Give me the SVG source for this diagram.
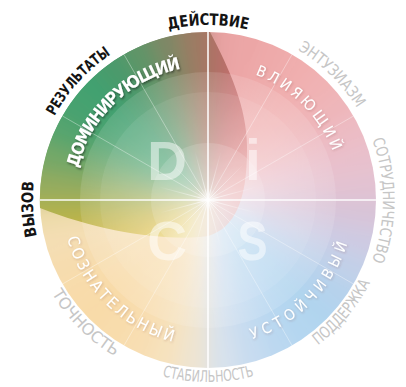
<svg xmlns="http://www.w3.org/2000/svg" xmlns:xlink="http://www.w3.org/1999/xlink" width="406" height="387" viewBox="0 0 406 387">
<style>
.lb{font-family:"DejaVu Sans Condensed","DejaVu Sans","Liberation Sans",sans-serif;font-weight:bold;fill:#141414;font-size:16px}
.lg{font-family:"DejaVu Sans Condensed","DejaVu Sans","Liberation Sans",sans-serif;fill:#c6c6c6;font-size:16px}
.lw{font-family:"DejaVu Sans Condensed","DejaVu Sans","Liberation Sans",sans-serif;fill:#ffffff;font-size:15px}
.big{font-family:"Liberation Sans",Arial,sans-serif;font-weight:bold;font-size:55px;fill:#ffffff;fill-opacity:0.5;text-anchor:middle}
.sp{stroke:#ffffff;stroke-opacity:0.45;stroke-width:0.8}
.cr{stroke:#ffffff;stroke-opacity:0.95;stroke-width:1.6}
.ray{stroke:url(#rg);stroke-width:0.9}
</style>
<defs>
<clipPath id="cc"><circle cx="208" cy="200" r="168"/></clipPath>
<clipPath id="tc"><path d="M210 32 C230 70 248 110 247 150 C247 200 235 228 208 236 C170 242 100 232 40 208 A168 168 0 0 1 210 32Z"/></clipPath>
<filter id="bl" x="-10%" y="-10%" width="120%" height="120%"><feGaussianBlur stdDeviation="9"/></filter>
<filter id="sh" x="-10%" y="-10%" width="120%" height="120%"><feDropShadow dx="1" dy="1.5" stdDeviation="1" flood-color="#000" flood-opacity="0.5"/></filter>
<filter id="sh2" x="-10%" y="-10%" width="120%" height="120%"><feDropShadow dx="0.8" dy="1" stdDeviation="0.8" flood-color="#703030" flood-opacity="0.25"/></filter>
<radialGradient id="wg" cx="208" cy="200" r="128" gradientUnits="userSpaceOnUse">
<stop offset="0" stop-color="#fff" stop-opacity="0.6"/>
<stop offset="0.45" stop-color="#fff" stop-opacity="0.33"/>
<stop offset="1" stop-color="#fff" stop-opacity="0.12"/>
</radialGradient>
<radialGradient id="rg" cx="208" cy="200" r="50" gradientUnits="userSpaceOnUse">
<stop offset="0" stop-color="#fff" stop-opacity="0.8"/>
<stop offset="1" stop-color="#fff" stop-opacity="0"/>
</radialGradient>
<radialGradient id="glow" cx="208" cy="200" r="12" gradientUnits="userSpaceOnUse">
<stop offset="0" stop-color="#fff" stop-opacity="0.6"/>
<stop offset="1" stop-color="#fff" stop-opacity="0"/>
</radialGradient>
<path id="cwA" d="M208 375 A175 175 0 1 1 208 25 A175 175 0 1 1 208 375"/>
<path id="cwI" d="M208 334 A134 134 0 1 1 208 66 A134 134 0 1 1 208 334"/>
<path id="ccwG" d="M26 200 A182 182 0 1 0 390 200 A182 182 0 1 0 26 200"/>
<path id="ccwI" d="M62 200 A146 146 0 1 0 354 200 A146 146 0 1 0 62 200"/>
<path id="w0" d="M208 200L448 200L444.4 158.3Z"/>
<path id="w10" d="M208 200L444.4 158.3L433.5 117.9Z"/>
<path id="w20" d="M208 200L433.5 117.9L415.8 80Z"/>
<path id="w30" d="M208 200L415.8 80L391.8 45.7Z"/>
<path id="w40" d="M208 200L391.8 45.7L362.3 16.2Z"/>
<path id="w50" d="M208 200L362.3 16.2L328 -7.8Z"/>
<path id="w60" d="M208 200L328 -7.8L290.1 -25.5Z"/>
<path id="w70" d="M208 200L290.1 -25.5L249.7 -36.4Z"/>
<path id="w80" d="M208 200L249.7 -36.4L208 -40Z"/>
<path id="w90" d="M208 200L208 -40L166.3 -36.4Z"/>
<path id="w100" d="M208 200L166.3 -36.4L125.9 -25.5Z"/>
<path id="w110" d="M208 200L125.9 -25.5L88 -7.8Z"/>
<path id="w120" d="M208 200L88 -7.8L53.7 16.2Z"/>
<path id="w130" d="M208 200L53.7 16.2L24.2 45.7Z"/>
<path id="w140" d="M208 200L24.2 45.7L0.2 80Z"/>
<path id="w150" d="M208 200L0.2 80L-17.5 117.9Z"/>
<path id="w160" d="M208 200L-17.5 117.9L-28.4 158.3Z"/>
<path id="w170" d="M208 200L-28.4 158.3L-32 200Z"/>
<path id="w180" d="M208 200L-32 200L-28.4 241.7Z"/>
<path id="w190" d="M208 200L-28.4 241.7L-17.5 282.1Z"/>
<path id="w200" d="M208 200L-17.5 282.1L0.2 320Z"/>
<path id="w210" d="M208 200L0.2 320L24.2 354.3Z"/>
<path id="w220" d="M208 200L24.2 354.3L53.7 383.8Z"/>
<path id="w230" d="M208 200L53.7 383.8L88 407.8Z"/>
<path id="w240" d="M208 200L88 407.8L125.9 425.5Z"/>
<path id="w250" d="M208 200L125.9 425.5L166.3 436.4Z"/>
<path id="w260" d="M208 200L166.3 436.4L208 440Z"/>
<path id="w270" d="M208 200L208 440L249.7 436.4Z"/>
<path id="w280" d="M208 200L249.7 436.4L290.1 425.5Z"/>
<path id="w290" d="M208 200L290.1 425.5L328 407.8Z"/>
<path id="w300" d="M208 200L328 407.8L362.3 383.8Z"/>
<path id="w310" d="M208 200L362.3 383.8L391.8 354.3Z"/>
<path id="w320" d="M208 200L391.8 354.3L415.8 320Z"/>
<path id="w330" d="M208 200L415.8 320L433.5 282.1Z"/>
<path id="w340" d="M208 200L433.5 282.1L444.4 241.7Z"/>
<path id="w350" d="M208 200L444.4 241.7L448 200Z"/>
</defs>
<rect width="406" height="387" fill="#ffffff"/>
<g id="disc-base" clip-path="url(#cc)">
<g filter="url(#bl)">
<use href="#w0" fill="#e2c2d2"/><use href="#w10" fill="#e8c0cc"/><use href="#w20" fill="#ecbcc4"/><use href="#w30" fill="#eeb6ba"/>
<use href="#w40" fill="#f0b2b4"/><use href="#w50" fill="#f0aeae"/><use href="#w60" fill="#eeaaaa"/><use href="#w70" fill="#eca6a6"/>
<use href="#w80" fill="#e8a2a2"/><use href="#w90" fill="#b09080"/><use href="#w100" fill="#7e8866"/><use href="#w110" fill="#609468"/>
<use href="#w120" fill="#4c9a6c"/><use href="#w130" fill="#42a070"/><use href="#w140" fill="#46a270"/><use href="#w150" fill="#56a46e"/>
<use href="#w160" fill="#74a868"/><use href="#w170" fill="#94ac5e"/><use href="#w180" fill="#ecdaa8"/><use href="#w190" fill="#f4deb4"/>
<use href="#w200" fill="#f6dcae"/><use href="#w210" fill="#f8dbaa"/><use href="#w220" fill="#f8daa8"/><use href="#w230" fill="#f8dcac"/>
<use href="#w240" fill="#f8deb2"/><use href="#w250" fill="#f6e2be"/><use href="#w260" fill="#eee4d2"/><use href="#w270" fill="#d8e2ec"/>
<use href="#w280" fill="#c8dcf0"/><use href="#w290" fill="#bcd8f0"/><use href="#w300" fill="#b4d6f0"/><use href="#w310" fill="#b0d4ee"/>
<use href="#w320" fill="#b6d2ec"/><use href="#w330" fill="#c2d0e8"/><use href="#w340" fill="#cecae2"/><use href="#w350" fill="#d8c4d8"/>
</g>
</g>
<g id="disc-drop" clip-path="url(#tc)">
<g filter="url(#bl)">
<use href="#w0" fill="#e4a0a4"/><use href="#w10" fill="#e69c9c"/><use href="#w20" fill="#e69898"/><use href="#w30" fill="#e49090"/>
<use href="#w40" fill="#e08888"/><use href="#w50" fill="#dc8080"/><use href="#w60" fill="#d47878"/><use href="#w70" fill="#c87070"/>
<use href="#w80" fill="#b47068"/><use href="#w90" fill="#9c7c64"/><use href="#w100" fill="#7e8866"/><use href="#w110" fill="#609468"/>
<use href="#w120" fill="#4c9a6c"/><use href="#w130" fill="#42a070"/><use href="#w140" fill="#46a270"/><use href="#w150" fill="#56a46e"/>
<use href="#w160" fill="#74a868"/><use href="#w170" fill="#94ac5e"/><use href="#w180" fill="#b2b24e"/><use href="#w190" fill="#c8b646"/>
<use href="#w200" fill="#d8bc48"/><use href="#w210" fill="#e2c450"/><use href="#w220" fill="#e8cc60"/><use href="#w230" fill="#ecd474"/>
<use href="#w240" fill="#eedc90"/><use href="#w250" fill="#eadcb0"/><use href="#w260" fill="#e6d4b8"/><use href="#w270" fill="#e0c8c0"/>
<use href="#w280" fill="#dcc0c0"/><use href="#w290" fill="#dab8bc"/><use href="#w300" fill="#d8b4b8"/><use href="#w310" fill="#d8b0b4"/>
<use href="#w320" fill="#dcaaae"/><use href="#w330" fill="#dea8ac"/><use href="#w340" fill="#e0a6aa"/><use href="#w350" fill="#e2a2a6"/>
</g>
</g>
<g id="disc-bands">
<circle cx="208" cy="200" r="128" fill="url(#wg)"/>
<circle cx="208" cy="200" r="108" fill="#ffffff" fill-opacity="0.08"/>
<circle cx="208" cy="200" r="57" fill="#ffffff" fill-opacity="0.14"/>
</g>
<g id="connectors">
<line class="sp" x1="62.5" y1="116" x2="353.5" y2="284"/>
<line class="sp" x1="124" y1="54.5" x2="292" y2="345.5"/>
<line class="sp" x1="292" y1="54.5" x2="124" y2="345.5"/>
<line class="sp" x1="353.5" y1="116" x2="62.5" y2="284"/>
<line class="ray" x1="266" y1="184.5" x2="150" y2="215.5"/>
<line class="ray" x1="250.4" y1="157.6" x2="165.6" y2="242.4"/>
<line class="ray" x1="223.5" y1="142" x2="192.5" y2="258"/>
<line class="ray" x1="192.5" y1="142" x2="223.5" y2="258"/>
<line class="ray" x1="165.6" y1="157.6" x2="250.4" y2="242.4"/>
<line class="ray" x1="150" y1="184.5" x2="266" y2="215.5"/>
<line class="cr" x1="40" y1="200" x2="376" y2="200"/>
<line class="cr" x1="208" y1="32" x2="208" y2="368"/>
<circle cx="208" cy="200" r="12" fill="url(#glow)"/>
</g>
<g id="node-D">
<text class="big" x="167" y="180">D</text>
<text class="lw" style="font-weight:bold;font-size:17px" text-anchor="middle" filter="url(#sh)"><textPath href="#cwI" startOffset="318.1" textLength="151" lengthAdjust="spacing">ДОМИНИРУЮЩИЙ</textPath></text>
</g>
<g id="node-i">
<text class="big" x="253" y="180" style="font-size:57px">i</text>
<text class="lw" text-anchor="middle" filter="url(#sh2)"><textPath href="#cwI" startOffset="525" textLength="112" lengthAdjust="spacing">ВЛИЯЮЩИЙ</textPath></text>
</g>
<g id="node-C">
<text class="big" x="167" y="260">C</text>
<text class="lw" style="font-size:16px" text-anchor="middle" filter="url(#sh2)"><textPath href="#ccwI" startOffset="115.9" textLength="155" lengthAdjust="spacing">СОЗНАТЕЛЬНЫЙ</textPath></text>
</g>
<g id="node-S">
<text class="big" x="0" y="0" transform="translate(252.5 260) scale(0.82 1)">S</text>
<text class="lw" text-anchor="middle" filter="url(#sh2)"><textPath href="#ccwI" startOffset="344" textLength="140" lengthAdjust="spacing">УСТОЙЧИВЫЙ</textPath></text>
</g>
<g id="outer-labels">
<text class="lb" text-anchor="middle"><textPath href="#cwA" startOffset="549.8" textLength="80" lengthAdjust="spacingAndGlyphs">ДЕЙСТВИЕ</textPath></text>
<text class="lb" style="font-size:15px" text-anchor="middle"><textPath href="#cwA" startOffset="404.4" textLength="84" lengthAdjust="spacingAndGlyphs">РЕЗУЛЬТАТЫ</textPath></text>
<text class="lb" text-anchor="middle"><textPath href="#cwA" startOffset="265.7" textLength="55" lengthAdjust="spacingAndGlyphs">ВЫЗОВ</textPath></text>
<text class="lg" text-anchor="middle"><textPath href="#cwA" startOffset="685.7" textLength="84" lengthAdjust="spacingAndGlyphs">ЭНТУЗИАЗМ</textPath></text>
<text class="lg" text-anchor="middle"><textPath href="#cwA" startOffset="824.7" textLength="124" lengthAdjust="spacingAndGlyphs">СОТРУДНИЧЕСТВО</textPath></text>
<text class="lg" text-anchor="middle"><textPath href="#ccwG" startOffset="444.7" textLength="82" lengthAdjust="spacingAndGlyphs">ПОДДЕРЖКА</textPath></text>
<text class="lg" text-anchor="middle"><textPath href="#ccwG" startOffset="285.9" textLength="93" lengthAdjust="spacingAndGlyphs">СТАБИЛЬНОСТЬ</textPath></text>
<text class="lg" text-anchor="middle"><textPath href="#ccwG" startOffset="142.9" textLength="90" lengthAdjust="spacingAndGlyphs">ТОЧНОСТЬ</textPath></text>
</g>
</svg>
